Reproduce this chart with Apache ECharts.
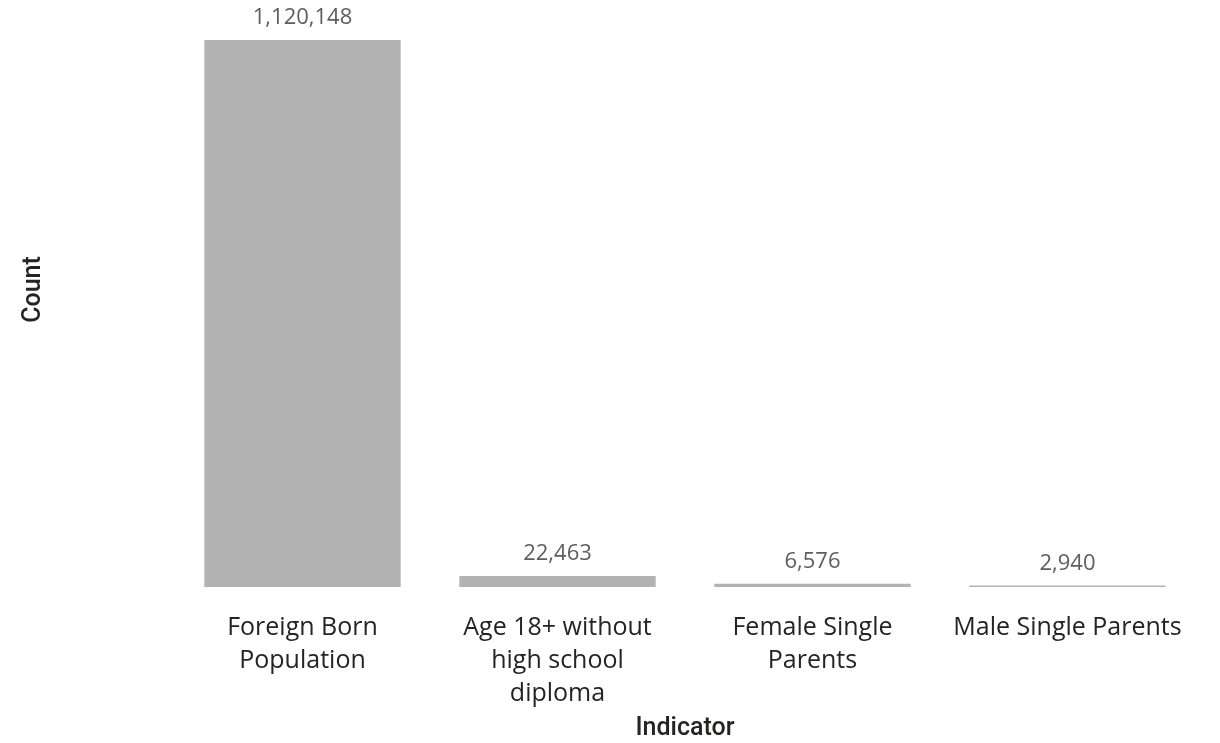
<!DOCTYPE html>
<html>
<head>
<meta charset="utf-8">
<script src="https://cdn.jsdelivr.net/npm/echarts@6/dist/echarts.min.js"></script>
<style>
html,body{margin:0;padding:0;background:#fff;}
#chart{width:1220px;height:743px;}
</style>
</head>
<body>
<div id="chart"></div>
<script>
const categories = ["Foreign Born Population", "Age 18+ without high school diploma", "Female Single Parents", "Male Single Parents"];
const categoryLabels = ["Foreign Born\nPopulation", "Age 18+ without\nhigh school\ndiploma", "Female Single\nParents", "Male Single Parents"];
const counts = [1120148, 22463, 6576, 2940];
const xAxisName = "Indicator";
const yAxisName = "Count";

const chart = echarts.init(document.getElementById('chart'));
chart.setOption({
  animation: false,
  grid: {left: 175, right: 25, top: 40, bottom: 156, containLabel: false, outerBoundsMode: 'none'},
  xAxis: {
    type: 'category',
    data: categories,
    name: xAxisName,
    nameLocation: 'middle',
    nameGap: 129,
    nameTextStyle: {fontFamily: 'Roboto', fontSize: 25, color: '#252423', fontWeight: 500},
    axisLine: {show: false},
    axisTick: {show: false},
    axisLabel: {
      interval: 0,
      margin: 24,
      fontFamily: 'Open Sans',
      fontSize: 25,
      lineHeight: 33,
      color: '#252423',
      formatter: function (v, i) { return categoryLabels[i]; }
    }
  },
  yAxis: {
    type: 'value',
    min: 0,
    max: 1120148,
    name: yAxisName,
    nameLocation: 'middle',
    nameGap: 129,
    nameRotate: 90,
    nameTextStyle: {fontFamily: 'Roboto', fontSize: 25, color: '#252423', fontWeight: 500, padding: [0, 0, 0, 48]},
    axisLine: {show: false},
    axisTick: {show: false},
    axisLabel: {show: false},
    splitLine: {show: false}
  },
  series: [{
    type: 'bar',
    data: counts,
    barCategoryGap: '23%',
    itemStyle: {color: '#B3B3B3'},
    label: {
      show: true,
      position: 'top',
      distance: 11,
      fontFamily: 'Open Sans',
      fontSize: 22,
      color: '#605E5C',
      formatter: function (p) { return p.value.toLocaleString('en-US'); }
    }
  }]
});
</script>
</body>
</html>
